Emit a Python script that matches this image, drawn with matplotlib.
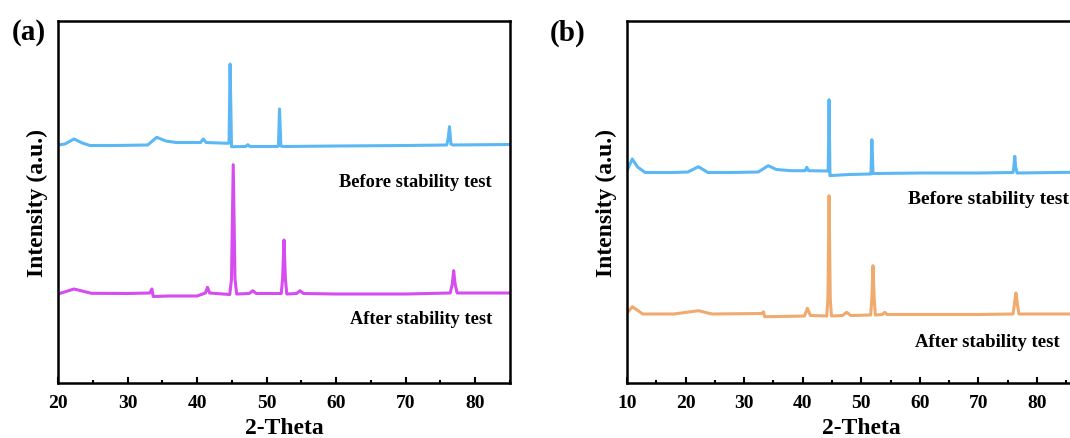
import matplotlib.pyplot as plt
from matplotlib.ticker import MultipleLocator

plt.rcParams['font.family'] = ['Liberation Serif', 'DejaVu Serif']
plt.rcParams['font.weight'] = 'bold'

# XRD patterns (2-Theta, intensity in a.u.)
x_a_before = [20, 21, 22.3, 23.5, 24.6, 28, 32.9, 34.2, 35.5, 37, 40.5, 40.9, 41.3, 44.4, 44.6, 44.75, 44.95, 45.3,
              47.0, 47.3, 47.6, 51.5, 51.7, 51.85, 52.05, 52.4, 60, 70, 75.9, 76.1, 76.3, 76.5, 76.8, 85]
y_a_before = [238, 239, 244, 240, 237.5, 237.5, 238, 245.7, 242, 240.5, 240.5, 244, 240.5, 239.7, 240, 319, 236.3, 236.3,
              236.5, 238.3, 236.5, 236.5, 237, 274, 237, 236.5, 237, 237.5, 238, 244, 256.3, 239, 238, 238.5]

x_a_after = [20, 22.3, 24.8, 30, 33.2, 33.5, 33.7, 36, 40, 41.2, 41.5, 41.8, 44.7, 44.95, 45.2, 45.45, 45.7, 47.5,
             48.0, 48.5, 52.1, 52.3, 52.5, 52.7, 52.9, 54.3, 54.8, 55.3, 60, 70, 76.4, 76.7, 76.9, 77.1, 77.4, 85]
y_a_after = [89, 94, 89.7, 89.5, 90, 94, 86.5, 87, 87, 90, 95.7, 90, 88.5, 104, 218.3, 104, 89, 89.5,
             92.3, 89.5, 89.5, 104, 143, 104, 89, 89.5, 92.3, 89.5, 89, 89, 90, 99, 112.3, 99, 90, 90]

x_b_before = [10, 10.9, 11.8, 13.1, 18, 20.4, 22.2, 23.8, 28, 32.4, 34.1, 35.5, 38, 40.4, 40.7, 41.0, 44.2, 44.35,
              44.5, 44.65, 44.9, 48, 51.5, 51.65, 51.8, 52.0, 52.3, 60, 70, 75.9, 76.05, 76.2, 76.35, 76.6, 90]
y_b_before = [212.3, 224, 216, 210.5, 210.5, 211, 216.3, 210.5, 210.5, 211, 217.3, 213.5, 212.3, 212.3, 215.7, 212.3, 212, 212,
              283.3, 207.3, 207.5, 208.5, 209, 209, 243.3, 209.5, 209.5, 210, 210, 210.5, 216, 226.7, 216, 210, 211]

x_b_after = [10, 10.9, 12.7, 18, 22.2, 24.5, 33.1, 33.3, 33.5, 36, 40.3, 40.8, 41.3, 44.1, 44.3, 44.5, 44.7, 44.9,
             46.8, 47.5, 48.2, 51.6, 51.8, 52.0, 52.2, 52.4, 53.6, 54.0, 54.4, 60, 70, 75.9, 76.15, 76.4, 76.65, 76.9, 90]
y_b_after = [69.7, 76.3, 69, 69, 72.3, 69, 69.5, 71.3, 66.3, 66.5, 67, 74.7, 67.5, 67, 84, 187.3, 84, 67,
             67.5, 70.7, 67.5, 68, 84, 117.3, 84, 68, 68.5, 70.7, 68.5, 68.5, 68.5, 69, 79, 90, 79, 69, 69]

ticks_a = [20, 30, 40, 50, 60, 70, 80]
ticks_b = [10, 20, 30, 40, 50, 60, 70, 80]

blue = '#5bb8f5'
magenta = '#d64cf0'
orange = '#f0aa6e'

fig = plt.figure(figsize=(10.7, 4.39), dpi=100)
ax1 = fig.add_axes([58 / 1070, 55 / 439, 452 / 1070, 362 / 439])
ax2 = fig.add_axes([627 / 1070, 55 / 439, 468.6 / 1070, 362 / 439])


def style(ax, xmin, xmax, ticks):
    ax.set_xlim(xmin, xmax)
    ax.set_ylim(0, 362)
    ax.set_yticks([])
    ax.set_xticks(ticks)
    ax.xaxis.set_minor_locator(MultipleLocator(5))
    ax.tick_params(axis='x', which='major', direction='in', length=4, width=1.5,
                   labelsize=14, pad=8)
    ax.tick_params(axis='x', which='minor', direction='in', length=2, width=1.5)
    for s in ax.spines.values():
        s.set_linewidth(1.8)
    for lab in ax.get_xticklabels():
        lab.set_fontweight('bold')
    ax.set_xlabel('2-Theta', fontsize=17, fontweight='bold', labelpad=4)
    ax.set_ylabel('Intensity (a.u.)', fontsize=17, fontweight='bold', labelpad=7)


ax1.plot(x_a_before, y_a_before, color=blue, lw=2.2)
ax1.plot(x_a_after, y_a_after, color=magenta, lw=2.2)
style(ax1, 20, 85, ticks_a)
ax1.text(82.4, 201.3, 'Before stability test', ha='right', va='center', fontsize=13.2, fontweight='bold')
ax1.text(82.4, 64, 'After stability test', ha='right', va='center', fontsize=13.2, fontweight='bold')

ax2.plot(x_b_before, y_b_before, color=blue, lw=2.2)
ax2.plot(x_b_after, y_b_after, color=orange, lw=2.2)
style(ax2, 10, 90, ticks_b)
ax2.text(58, 184.7, 'Before stability test', ha='left', va='center', fontsize=14, fontweight='bold')
ax2.text(59.2, 41.4, 'After stability test', ha='left', va='center', fontsize=13.5, fontweight='bold')

fig.text(12 / 1070, 1 - 32 / 439, '(a)', ha='left', va='center', fontsize=21, fontweight='bold')
fig.text(550 / 1070, 1 - 33 / 439, '(b)', ha='left', va='center', fontsize=21, fontweight='bold')

fig.savefig('out.png', dpi=100)
